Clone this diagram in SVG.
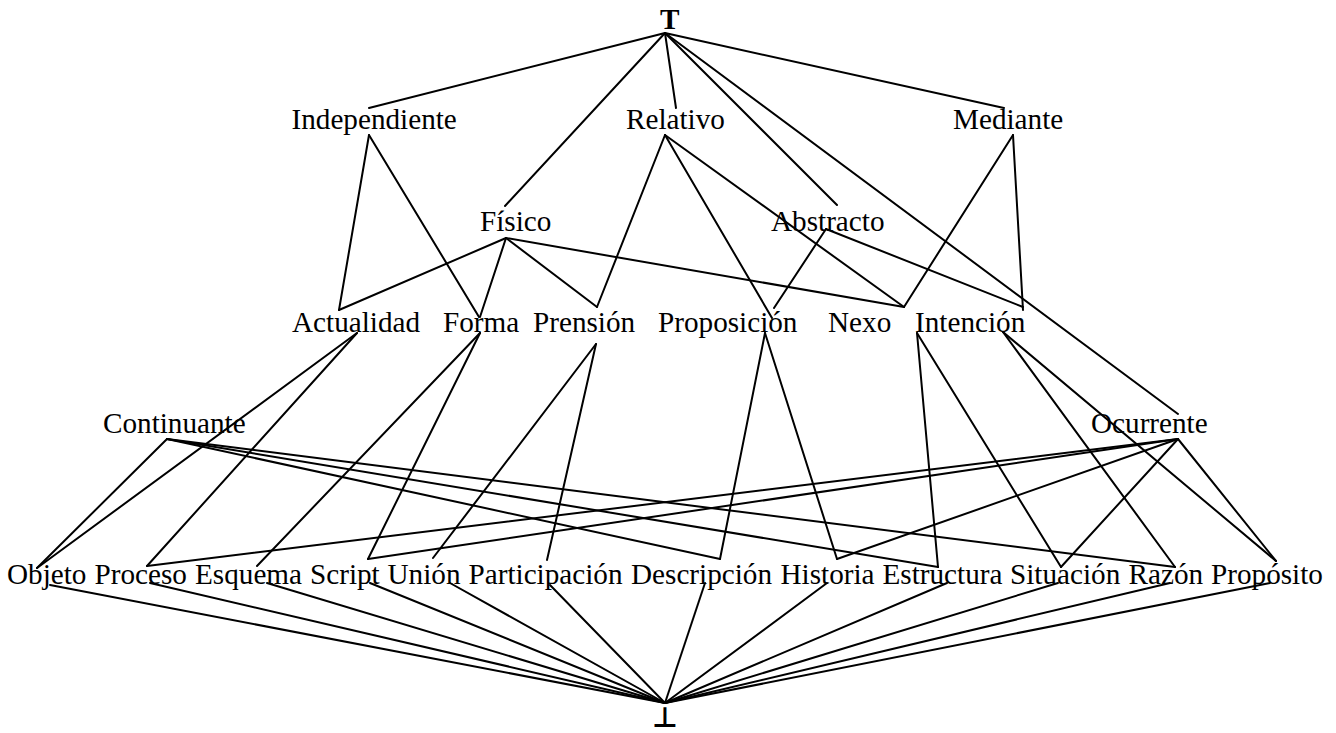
<svg xmlns="http://www.w3.org/2000/svg" width="1336" height="733" viewBox="0 0 1336 733">
  <style>
    .lbl { font-family: "Liberation Serif", "Times New Roman", serif; font-size: 29.2px; fill: #000; }
    .top { font-weight: bold; }
    .bot { font-family: "DejaVu Sans", "Liberation Serif", sans-serif; font-size: 28px; font-weight: bold; fill: #000; }
    .edges line { stroke: #000; stroke-width: 2; stroke-linecap: round; }
  </style>
  <rect width="1336" height="733" fill="#fff"/>

  <!-- lattice edges -->
  <g id="connectors" class="edges">
    <!-- from the top element -->
    <line x1="665" y1="33" x2="369" y2="108"/>
    <line x1="665" y1="33" x2="505" y2="206"/>
    <line x1="665" y1="33" x2="676" y2="108"/>
    <line x1="665" y1="33" x2="837" y2="205"/>
    <line x1="665" y1="33" x2="1178" y2="414"/>
    <line x1="665" y1="33" x2="1004" y2="108"/>
    <!-- Independiente -->
    <line x1="369" y1="135" x2="339" y2="310"/>
    <line x1="369" y1="135" x2="479" y2="317"/>
    <!-- Relativo -->
    <line x1="665" y1="135" x2="597" y2="307"/>
    <line x1="665" y1="135" x2="772" y2="318"/>
    <line x1="665" y1="135" x2="904" y2="307"/>
    <!-- Mediante -->
    <line x1="1013" y1="135" x2="904" y2="307"/>
    <line x1="1013" y1="135" x2="1023" y2="310"/>
    <!-- Físico -->
    <line x1="506" y1="238" x2="339" y2="310"/>
    <line x1="506" y1="238" x2="480" y2="317"/>
    <line x1="506" y1="238" x2="597" y2="307"/>
    <line x1="506" y1="238" x2="904" y2="307"/>
    <!-- Abstracto -->
    <line x1="826" y1="229" x2="774" y2="308"/>
    <line x1="826" y1="229" x2="1023" y2="307"/>
    <!-- Actualidad -->
    <line x1="357" y1="333" x2="37" y2="568"/>
    <line x1="357" y1="333" x2="147" y2="566"/>
    <!-- Forma -->
    <line x1="480" y1="333" x2="257" y2="566"/>
    <line x1="480" y1="333" x2="368" y2="559"/>
    <!-- Prensión -->
    <line x1="596" y1="344" x2="433" y2="558"/>
    <line x1="596" y1="344" x2="547" y2="560"/>
    <!-- Proposición -->
    <line x1="765" y1="333" x2="720" y2="559"/>
    <line x1="765" y1="333" x2="837" y2="559"/>
    <!-- Intención -->
    <line x1="917" y1="333" x2="938" y2="567"/>
    <line x1="917" y1="333" x2="1061" y2="567"/>
    <line x1="1003" y1="332" x2="1175" y2="567"/>
    <line x1="1003" y1="332" x2="1276" y2="561"/>
    <!-- Continuante -->
    <line x1="167" y1="439" x2="37" y2="568"/>
    <line x1="167" y1="439" x2="720" y2="559"/>
    <line x1="167" y1="439" x2="938" y2="567"/>
    <line x1="167" y1="439" x2="1175" y2="567"/>
    <!-- Ocurrente -->
    <line x1="1178" y1="439" x2="147" y2="566"/>
    <line x1="1178" y1="439" x2="368" y2="559"/>
    <line x1="1178" y1="439" x2="837" y2="559"/>
    <line x1="1178" y1="439" x2="1061" y2="567"/>
    <line x1="1178" y1="439" x2="1276" y2="561"/>
    <!-- down to the bottom element -->
    <line x1="50" y1="585" x2="665" y2="703"/>
    <line x1="150" y1="583" x2="665" y2="703"/>
    <line x1="267" y1="583" x2="665" y2="703"/>
    <line x1="370" y1="583" x2="665" y2="703"/>
    <line x1="450" y1="583" x2="665" y2="703"/>
    <line x1="550" y1="585" x2="665" y2="703"/>
    <line x1="705" y1="583" x2="665" y2="703"/>
    <line x1="827" y1="583" x2="665" y2="703"/>
    <line x1="947" y1="583" x2="665" y2="703"/>
    <line x1="1058" y1="583" x2="665" y2="703"/>
    <line x1="1170" y1="583" x2="665" y2="703"/>
    <line x1="1270" y1="583" x2="665" y2="703"/>
  </g>

  <g id="n-top"><text class="lbl top" x="660" y="28.5">T</text></g>

  <g id="n-independiente"><text class="lbl" x="291.5" y="129">Independiente</text></g>
  <g id="n-relativo"><text class="lbl" x="626" y="129">Relativo</text></g>
  <g id="n-mediante"><text class="lbl" x="953" y="129">Mediante</text></g>

  <g id="n-fisico"><text class="lbl" x="480" y="230.5">Físico</text></g>
  <g id="n-abstracto"><text class="lbl" x="771" y="230.5">Abstracto</text></g>

  <g id="n-actualidad"><text class="lbl" x="292" y="331.5">Actualidad</text></g>
  <g id="n-forma"><text class="lbl" x="443" y="331.5">Forma</text></g>
  <g id="n-prension"><text class="lbl" x="533" y="331.5">Prensión</text></g>
  <g id="n-proposicion"><text class="lbl" x="658" y="331.5">Proposición</text></g>
  <g id="n-nexo"><text class="lbl" x="828" y="331.5">Nexo</text></g>
  <g id="n-intencion"><text class="lbl" x="915" y="331.5">Intención</text></g>

  <g id="n-continuante"><text class="lbl" x="103" y="432.5">Continuante</text></g>
  <g id="n-ocurrente"><text class="lbl" x="1091" y="432.5">Ocurrente</text></g>

  <g id="n-objeto"><text class="lbl" x="7" y="584">Objeto</text></g>
  <g id="n-proceso"><text class="lbl" x="94.5" y="584">Proceso</text></g>
  <g id="n-esquema"><text class="lbl" x="195" y="584">Esquema</text></g>
  <g id="n-script"><text class="lbl" x="310" y="584">Script</text></g>
  <g id="n-union"><text class="lbl" x="387.5" y="584">Unión</text></g>
  <g id="n-participacion"><text class="lbl" x="468.5" y="584">Participación</text></g>
  <g id="n-descripcion"><text class="lbl" x="631" y="584">Descripción</text></g>
  <g id="n-historia"><text class="lbl" x="780.5" y="584">Historia</text></g>
  <g id="n-estructura"><text class="lbl" x="882.5" y="584">Estructura</text></g>
  <g id="n-situacion"><text class="lbl" x="1010" y="584">Situación</text></g>
  <g id="n-razon"><text class="lbl" x="1128.5" y="584">Razón</text></g>
  <g id="n-proposito"><text class="lbl" x="1211" y="584">Propósito</text></g>

  <g id="n-bottom"><text class="bot" x="665" y="727" text-anchor="middle">⊥</text></g>
</svg>
